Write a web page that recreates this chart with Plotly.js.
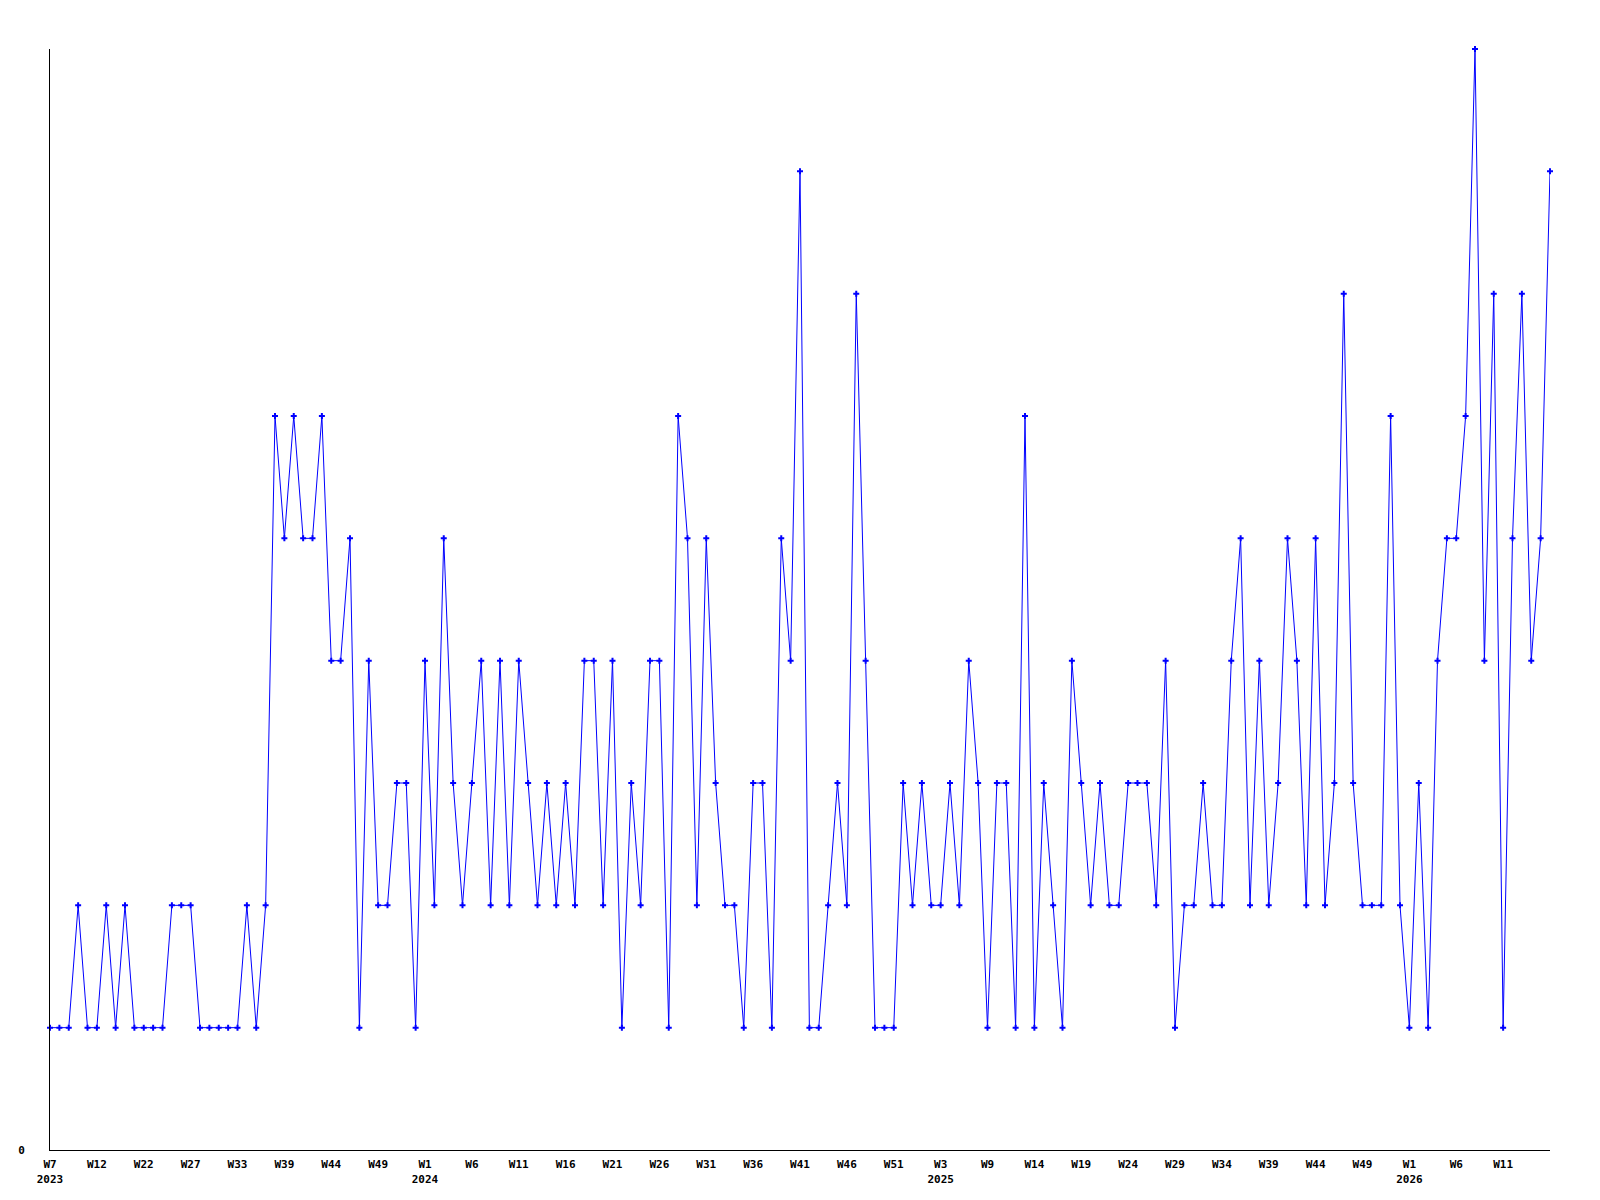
<!DOCTYPE html>
<html>
<head>
<meta charset="utf-8">
<script src="https://cdn.plot.ly/plotly-3.0.1.min.js"></script>
<style>
  html, body { margin: 0; padding: 0; background: #ffffff; }
  #chart { width: 1600px; height: 1200px; }
</style>
</head>
<body>
<div id="chart"></div>
<script>
// Week numbers present in the data, per year (categorical x-axis)
const weeks2023 = [7,8,9,10,11,12,18,19,20,21,22,23,24,25,26,27,28,29,30,31,33,34,35,36,37,39,40,41,42,43,44,45,46,47,48,49,50,51,52,53];
const weeks2024 = [1,2,3,4,5,6,7,8,9,10,11,12,13,14,15,16,17,18,19,20,21,22,23,24,25,26,27,28,29,30,31,32,33,34,35,36,37,38,39,40,41,42,43,44,45,46,47,48,49,50,51,52,53];
const weeks2025 = [1,2,3,4,5,6,7,9,10,11,12,13,14,15,16,17,18,19,20,21,22,23,24,25,26,27,28,29,30,31,32,33,34,35,36,37,38,39,40,41,42,43,44,45,46,47,48,49,50,51,52,53];
const weeks2026 = [1,2,3,4,5,6,7,8,9,10,11,12,13,14,15,16];

// Weekly counts
const counts = [
  1,1,1,2,1,1,2,1,2,1,
  1,1,1,2,2,2,1,1,1,1,
  1,2,1,2,6,5,6,5,5,6,
  4,4,5,1,4,2,2,3,3,1,
  4,2,5,3,2,3,4,2,4,2,
  4,3,2,3,2,3,2,4,4,2,
  4,1,3,2,4,4,1,6,5,2,
  5,3,2,2,1,3,3,1,5,4,
  8,1,1,2,3,2,7,4,1,1,
  1,3,2,3,2,2,3,2,4,3,
  1,3,3,1,6,1,3,2,1,4,
  3,2,3,2,2,3,3,3,2,4,
  1,2,2,3,2,2,4,5,2,4,
  2,3,5,4,2,5,2,3,7,3,
  2,2,2,6,2,1,3,1,4,5,
  5,6,9,4,7,1,5,7,4,5,
  8
];

// Labelled ticks: [year, week, show year]
const tickWeeks = [
  [2023,7,true],[2023,12],[2023,22],[2023,27],[2023,33],[2023,39],[2023,44],[2023,49],
  [2024,1,true],[2024,6],[2024,11],[2024,16],[2024,21],[2024,26],[2024,31],[2024,36],[2024,41],[2024,46],[2024,51],
  [2025,3,true],[2025,9],[2025,14],[2025,19],[2025,24],[2025,29],[2025,34],[2025,39],[2025,44],[2025,49],
  [2026,1,true],[2026,6],[2026,11]
];

const cat = (y, w) => y + '-W' + w;
const categories = []
  .concat(weeks2023.map(w => cat(2023, w)))
  .concat(weeks2024.map(w => cat(2024, w)))
  .concat(weeks2025.map(w => cat(2025, w)))
  .concat(weeks2026.map(w => cat(2026, w)));

const tickvals = tickWeeks.map(t => cat(t[0], t[1]));
const ticktext = tickWeeks.map(t => 'W' + t[1] + (t[2] ? '<br>' + t[0] : ''));

const trace = {
  type: 'scatter',
  mode: 'lines+markers',
  x: categories,
  y: counts,
  line: { color: '#0000ff', width: 1 },
  marker: { color: '#0000ff', symbol: 'cross', size: 5 },
  cliponaxis: false,
  hoverinfo: 'x+y'
};

const tickFont = { family: '"DejaVu Sans Mono", "Liberation Mono", monospace', size: 11, color: '#000000', weight: 'bold' };

const layout = {
  width: 1600,
  height: 1200,
  margin: { l: 50, r: 50, t: 49, b: 50, pad: 0 },
  paper_bgcolor: '#ffffff',
  plot_bgcolor: '#ffffff',
  showlegend: false,
  xaxis: {
    type: 'category',
    categoryorder: 'array',
    categoryarray: categories,
    range: [0, categories.length - 1],
    showline: true,
    linecolor: '#000000',
    linewidth: 1,
    showgrid: false,
    zeroline: false,
    ticks: '',
    tickmode: 'array',
    tickvals: tickvals,
    ticktext: ticktext,
    tickangle: 0,
    tickfont: tickFont,
    ticklabelstandoff: 4
  },
  yaxis: {
    range: [0, 9],
    showline: true,
    linecolor: '#000000',
    linewidth: 1,
    showgrid: false,
    zeroline: false,
    ticks: '',
    tickmode: 'array',
    tickvals: [0],
    ticktext: ['0'],
    tickfont: tickFont,
    ticklabelstandoff: 22
  }
};

Plotly.newPlot('chart', [trace], layout, { displayModeBar: false, staticPlot: true });
</script>
</body>
</html>
